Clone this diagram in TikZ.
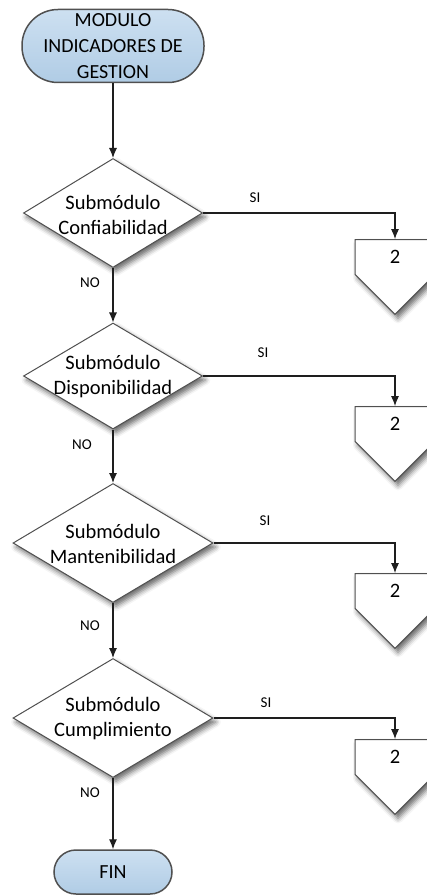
\documentclass[tikz,border=0pt]{standalone}
\usepackage{fontspec}
\setmainfont{Carlito}
\usetikzlibrary{shapes.geometric,shapes.symbols,shadows.blur,arrows.meta}

\definecolor{termfill}{RGB}{176,204,229}
\definecolor{termtop}{RGB}{205,224,241}
\definecolor{termline}{RGB}{80,80,80}
\definecolor{shapeline}{RGB}{80,80,80}
\definecolor{flowline}{RGB}{30,30,30}

\tikzset{
  soft/.style={blur shadow={shadow xshift=3pt, shadow yshift=-4pt,
    shadow blur radius=5pt, shadow opacity=60}},
  terminal/.style={rectangle, draw=termline, line width=1.5pt,
    top color=termtop, bottom color=termfill, inner sep=0pt,
    align=center, font=\fontsize{20}{26}\selectfont},
  decision/.style={diamond, draw=shapeline, line width=1pt, fill=white,
    inner sep=0pt, soft},
  dtext/.style={align=center, font=\fontsize{20.5}{25}\selectfont},
  offpage/.style={signal, signal to=south, signal pointer angle=90,
    draw=shapeline, line width=1pt, fill=white, inner sep=0pt,
    minimum width=80pt, minimum height=40pt, font=\fontsize{20.5}{25}\selectfont,
    soft},
  lbl/.style={font=\fontsize{15}{18}\selectfont},
  flow/.style={draw=flowline, line width=1.1pt, -{Latex[length=10pt,width=8pt]}}
}

\begin{document}
\begin{tikzpicture}[x=1pt, y=-1pt]
    \useasboundingbox (0,0) rectangle (427,896);

    % start and end
    \node[terminal, rounded corners=36pt, minimum width=182pt, minimum height=73pt] (mod) at (113,46) {MODULO\\INDICADORES DE\\GESTION};
    \node[terminal, rounded corners=22pt, minimum width=118pt, minimum height=44pt] (fin) at (113,872) {FIN};

    % the four submodules
    \node[decision, minimum width=179pt, minimum height=109pt] (conf) at (113,213) {};
    \node[decision, minimum width=179pt, minimum height=106pt] (disp) at (113,376) {};
    \node[decision, minimum width=200pt, minimum height=119pt] (mant) at (113,543) {};
    \node[decision, minimum width=200pt, minimum height=119pt] (cump) at (113,718) {};
    \node[dtext] (conftxt) at (113,215) {Submódulo\\Confiabilidad};
    \node[dtext] (disptxt) at (113,377) {Submódulo\\Disponibilidad};
    \node[dtext] (manttxt) at (113,544) {Submódulo\\Mantenibilidad};
    \node[dtext] (cumptxt) at (113,719) {Submódulo\\Cumplimiento};

    % connectors to page 2
    \node[offpage] (p1) at (395,257) {2};
    \node[offpage] (p2) at (395,424) {2};
    \node[offpage] (p3) at (395,591) {2};
    \node[offpage] (p4) at (395,757) {2};

    % main line
    \draw[flow] (mod) -- (conf);
    \draw[flow] (conf) -- (disp);
    \draw[flow] (disp) -- (mant);
    \draw[flow] (mant) -- (cump);
    \draw[flow] (cump) -- (fin);

    % branches
    \draw[flow] (conf.east) -| (p1.north);
    \draw[flow] (disp.east) -| (p2.north);
    \draw[flow] (mant.east) -| (p3.north);
    \draw[flow] (cump.east) -| (p4.north);

    \node[lbl] (si1) at (255,198) {SI};
    \node[lbl] (si2) at (263,353) {SI};
    \node[lbl] (si3) at (265,521) {SI};
    \node[lbl] (si4) at (266,703) {SI};
    \node[lbl] (no1) at (90,283) {NO};
    \node[lbl] (no2) at (82,445) {NO};
    \node[lbl] (no3) at (90,626) {NO};
    \node[lbl] (no4) at (90,793) {NO};
\end{tikzpicture}
\end{document}
